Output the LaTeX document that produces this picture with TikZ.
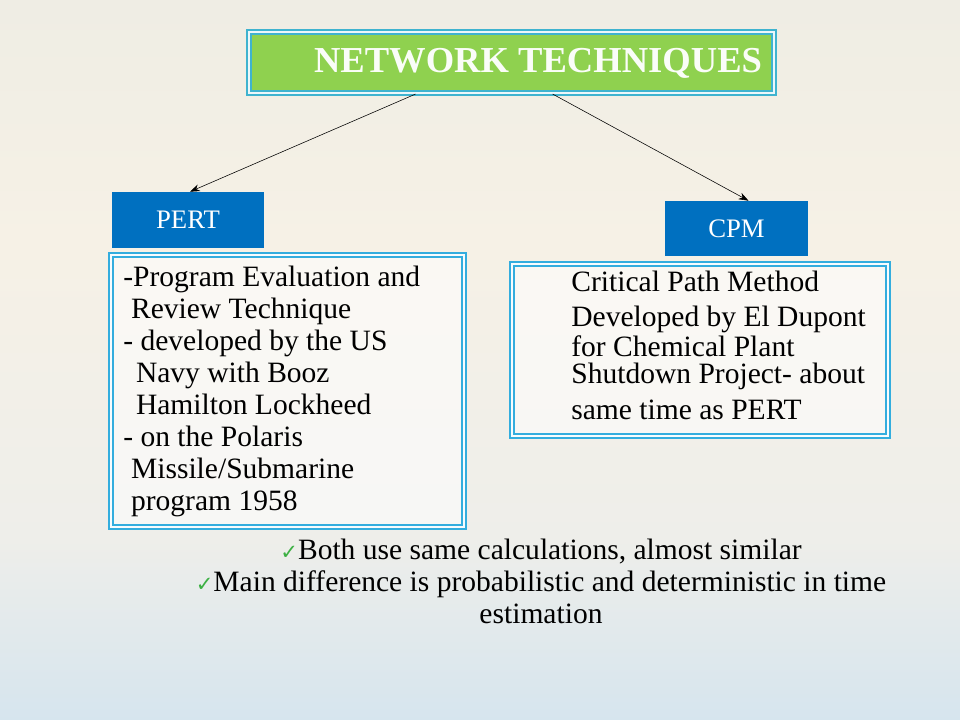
\documentclass[tikz,border=0pt]{standalone}
\usepackage{fontspec}
\setmainfont{Liberation Serif}
\newfontfamily\symfont{DejaVu Sans}
\usepackage{xcolor}
\usepackage{tikz}
\usetikzlibrary{arrows.meta,calc,positioning}
\definecolor{titlegreen}{HTML}{8FD14F}
\definecolor{titleedge}{HTML}{3FB3CF}
\definecolor{headblue}{HTML}{0070C0}
\definecolor{boxcyan}{HTML}{33ADDE}
\definecolor{tick}{HTML}{3CB043}
\definecolor{bgtop}{HTML}{DFE7EA}
\definecolor{bgwarm}{HTML}{EDECE3}
\definecolor{bgcream}{HTML}{F6F1E6}
\definecolor{bgmid}{HTML}{EEEEEA}
\definecolor{bgband}{HTML}{C6DCEA}
\definecolor{bgbandlo}{HTML}{D6E5EE}
\definecolor{bglow}{HTML}{E0E9EE}
\definecolor{bgbottom}{HTML}{ECEFEE}
\pgfdeclareverticalshading{slidebg}{100bp}{color(0bp)=(bgbottom); color(13.9bp)=(bglow); color(20.8bp)=(bgband); color(25bp)=(bgbandlo); color(37.5bp)=(bgmid); color(58.3bp)=(bgcream); color(79.2bp)=(bgwarm); color(100bp)=(bgtop)}
\newcommand{\tickmark}{\textcolor{tick}{\symfont\fontsize{15}{15}\selectfont ✓}}
\begin{document}
\begin{tikzpicture}[x=0.025cm,y=-0.025cm,>={Stealth[length=7pt,width=5pt]},
  headbox/.style={fill=headblue,text=white,minimum width=#1*0.025cm,font=\fontsize{19}{19}\selectfont},
  infobox/.style={draw=boxcyan,line width=1.3pt,double=white!96!boxcyan,double distance=1.2pt,fill=white,fill opacity=0.55,text opacity=1},
  bodytext/.style={anchor=north west,align=left,inner sep=0pt,font=\fontsize{21}{22.75}\selectfont}]
\useasboundingbox (0,0) rectangle (960,720);
% slide background
\shade[shading=slidebg] (0,0) rectangle (960,720);
% title bar
\node[draw=titleedge,line width=1.5pt,double=white!90!titleedge,double distance=0.9pt,fill=titlegreen,minimum width=525*0.025cm,minimum height=61*0.025cm,inner sep=0pt] (title) at (511.5,62.5) {};
\node[text=white!96!titlegreen,font=\bfseries\fontsize{26}{26}\selectfont] (titletext) at (538,63) {NETWORK TECHNIQUES};
% the two methods
\node[headbox=152,minimum height=56*0.025cm] (pert) at (188,220) {PERT};
\node[headbox=143,minimum height=55*0.025cm] (cpm) at (736.5,228.5) {CPM};
\draw[->] ($(title.south west)!0.318!(title.south east)$) -- ($(pert.north)+(2,0)$);
\draw[->] ($(title.south west)!0.578!(title.south east)$) -- ($(cpm.north)+(12,0)$);
% detail boxes
\node[infobox,minimum width=353*0.025cm,minimum height=272*0.025cm] (pertinfo) at (287.5,391) {};
\node[infobox,minimum width=376*0.025cm,minimum height=172*0.025cm] (cpminfo) at (700,350) {};
\node[bodytext] (perttext) at ([shift={(13,12)}]pertinfo.north west) {-Program Evaluation and\\
\hspace*{5.5pt}Review Technique\\
- developed by the US\\
\hspace*{9pt}Navy with Booz\\
\hspace*{9pt}Hamilton Lockheed\\
- on the Polaris\\
\hspace*{5.5pt}Missile/Submarine\\
\hspace*{5.5pt}program 1958};
\node[bodytext] (cpmtext) at ([shift={(60,8)}]cpminfo.north west) {Critical Path Method\\[2.2pt]
Developed by El Dupont\\[-2pt]
for Chemical Plant\\[-3pt]
Shutdown Project- about\\[2.8pt]
same time as PERT};
% common remarks
\node[align=center,inner sep=0pt,font=\fontsize{21}{22.75}\selectfont] (remarks) at (541,581) {\tickmark Both use same calculations, almost similar\\
\tickmark Main difference is probabilistic and deterministic in time\\
estimation};
\end{tikzpicture}
\end{document}
